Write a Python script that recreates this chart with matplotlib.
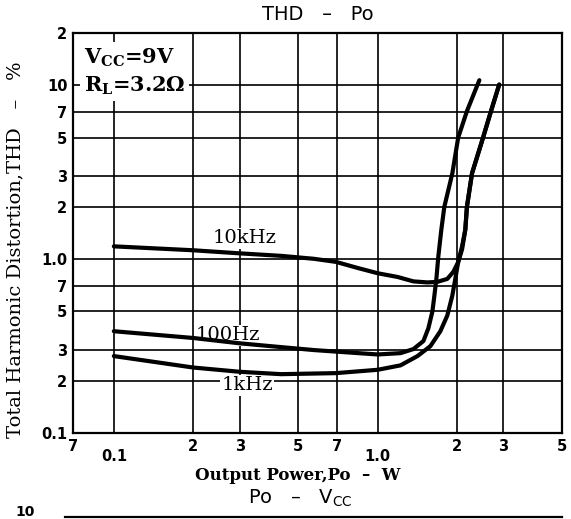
import matplotlib
matplotlib.use("Agg")
import matplotlib.pyplot as plt
from matplotlib.lines import Line2D

# THD (%) versus output power (W)
po_10k = [0.1, 0.2, 0.3, 0.43, 0.573, 0.694, 0.84, 1.0, 1.19, 1.367, 1.544, 1.684,
          1.837, 1.935, 2.02, 2.09, 2.15, 2.18, 2.28, 2.51, 2.69, 2.89]
thd_10k = [1.185, 1.125, 1.08, 1.045, 1.005, 0.965, 0.89, 0.83, 0.79, 0.745, 0.735, 0.74,
           0.77, 0.844, 0.961, 1.14, 1.48, 2.0, 3.12, 5.0, 7.1, 10.1]

po_100 = [0.1, 0.2, 0.3, 0.43, 0.573, 0.694, 1.0, 1.221, 1.367, 1.491, 1.557, 1.613,
          1.641, 1.670, 1.699, 1.744, 1.79, 1.92, 2.02, 2.18, 2.43]
thd_100 = [0.385, 0.352, 0.328, 0.312, 0.30, 0.294, 0.283, 0.288, 0.304, 0.338, 0.40, 0.50,
           0.616, 0.77, 1.04, 1.48, 2.0, 3.12, 5.0, 7.1, 10.7]

po_1k = [0.1, 0.2, 0.3, 0.43, 0.694, 1.0, 1.221, 1.416, 1.585, 1.729, 1.837, 1.919,
         1.97, 2.02, 2.09, 2.15, 2.18, 2.28, 2.51, 2.69, 2.89]
thd_1k = [0.277, 0.238, 0.225, 0.218, 0.221, 0.231, 0.245, 0.277, 0.316, 0.385, 0.474, 0.616,
          0.77, 0.961, 1.185, 1.48, 2.0, 3.12, 5.0, 7.1, 10.1]

x_grid = [0.1, 0.2, 0.3, 0.5, 0.7, 1.0, 2.0, 3.0]
y_grid = [0.2, 0.3, 0.5, 0.7, 1.0, 2.0, 3.0, 5.0, 7.0, 10.0]
x_ticks = [0.07, 0.2, 0.3, 0.5, 0.7, 2.0, 3.0, 5.0]
x_ticklabels = ["7", "2", "3", "5", "7", "2", "3", "5"]
x_low_ticks = [0.1, 1.0]
x_low_labels = ["0.1", "1.0"]
y_ticks = [0.1, 0.2, 0.3, 0.5, 0.7, 1.0, 2.0, 3.0, 5.0, 7.0, 10.0, 20.0]
y_ticklabels = ["0.1", "2", "3", "5", "7", "1.0", "2", "3", "5", "7", "10", "2"]

SERIF = "DejaVu Serif"

fig = plt.figure(figsize=(5.71, 5.19), dpi=100)
ax = fig.add_axes([73 / 571, 1 - 433 / 519, (562 - 73) / 571, (433 - 33) / 519])
ax.set_xscale("log")
ax.set_yscale("log")
ax.set_xlim(0.07, 5)
ax.set_ylim(0.1, 20)

for xv in x_grid:
    ax.axvline(xv, color="black", lw=1.2, zorder=1)
for yv in y_grid:
    ax.axhline(yv, color="black", lw=1.2, zorder=1)

for s in ax.spines.values():
    s.set_linewidth(1.6)

ax.xaxis.set_minor_locator(matplotlib.ticker.NullLocator())
ax.yaxis.set_minor_locator(matplotlib.ticker.NullLocator())
ax.set_xticks(x_ticks)
ax.set_xticklabels(x_ticklabels, fontsize=10.5, fontweight="bold")
ax.set_yticks(y_ticks)
ax.set_yticklabels(y_ticklabels, fontsize=10.5, fontweight="bold")
ax.tick_params(length=0, pad=4)
for xv, lab in zip(x_low_ticks, x_low_labels):
    ax.text(xv, -0.04, lab, transform=ax.get_xaxis_transform(),
            ha="center", va="top", fontsize=10.5, fontweight="bold")

for po, thd in [(po_10k, thd_10k), (po_100, thd_100), (po_1k, thd_1k)]:
    ax.plot(po, thd, color="black", lw=3, zorder=3,
            solid_joinstyle="round", solid_capstyle="round")

white = dict(facecolor="white", edgecolor="none", pad=1)
ax.text(0.312, 1.32, "10kHz", ha="center", va="center", fontsize=14,
        family=SERIF, bbox=white, zorder=2)
ax.text(0.27, 0.365, "100Hz", ha="center", va="center", fontsize=14,
        family=SERIF, bbox=white, zorder=2)
ax.text(0.32, 0.188, "1kHz", ha="center", va="center", fontsize=14,
        family=SERIF, bbox=white, zorder=2)

box = dict(facecolor="white", edgecolor="none", pad=3)
ax.text(0.077, 14.5, "V$_{\\mathregular{CC}}$=9V", ha="left", va="center",
        fontsize=15, family=SERIF, fontweight="bold", zorder=2, bbox=box)
ax.text(0.077, 10.0, "R$_{\\mathregular{L}}$=3.2Ω", ha="left", va="center",
        fontsize=15, family=SERIF, fontweight="bold", zorder=2, bbox=box)

fig.text(318 / 571, 1 - 14 / 519, "THD   –   Po", ha="center", va="center", fontsize=14)
fig.text(15 / 571, 1 - 250 / 519, "Total Harmonic Distortion,THD   –   %",
         rotation=90, ha="center", va="center", fontsize=14, family=SERIF)
fig.text(298 / 571, 1 - 475 / 519, "Output Power,Po  –  W", ha="center", va="center",
         fontsize=12, family=SERIF, fontweight="bold")
fig.text(300 / 571, 1 - 498 / 519, "Po   –   V$_{\\mathregular{CC}}$", ha="center",
         va="center", fontsize=14)
fig.text(25 / 571, 0.0, "10", ha="center", va="bottom", fontsize=10,
         fontweight="bold")
fig.add_artist(Line2D([65 / 571, 562 / 571], [1 - 517 / 519, 1 - 517 / 519],
                      color="black", lw=1.6))

fig.savefig("out.png", dpi=100)
